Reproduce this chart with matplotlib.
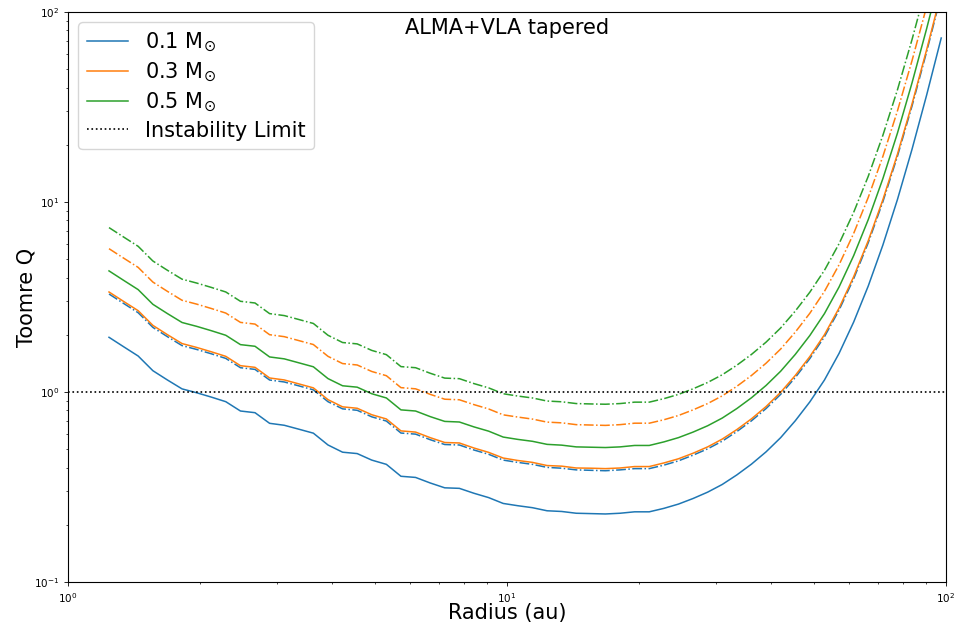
import matplotlib
matplotlib.use("Agg")
import matplotlib.pyplot as plt

# radius grid (au)
radius = [1.240, 1.339, 1.445, 1.561, 1.685, 1.819, 1.963, 2.120, 2.288, 2.471,
          2.667, 2.879, 3.109, 3.356, 3.622, 3.911, 4.222, 4.558, 4.920, 5.312,
          5.734, 6.191, 6.684, 7.215, 7.790, 8.410, 9.083, 9.804, 10.58, 11.43,
          12.34, 13.32, 14.38, 15.52, 16.76, 18.09, 19.53, 21.09, 22.77, 24.58,
          26.54, 28.65, 30.93, 33.39, 36.05, 38.92, 42.02, 45.36, 48.97, 52.87,
          57.08, 61.62, 66.53, 71.82, 77.53, 83.71, 90.37, 97.55]

# Toomre Q, solid lines
q_01 = [1.94, 1.73, 1.546, 1.294, 1.156, 1.038, 0.991, 0.940, 0.889, 0.794,
        0.778, 0.684, 0.668, 0.637, 0.607, 0.526, 0.482, 0.474, 0.438, 0.416,
        0.360, 0.355, 0.332, 0.313, 0.311, 0.293, 0.278, 0.259, 0.252, 0.246,
        0.237, 0.235, 0.230, 0.229, 0.228, 0.230, 0.234, 0.234, 0.244, 0.257,
        0.275, 0.297, 0.326, 0.366, 0.417, 0.484, 0.575, 0.705, 0.887, 1.156,
        1.596, 2.333, 3.614, 5.93, 10.30, 18.97, 36.56, 72.95]
q_03 = [3.360, 2.996, 2.678, 2.241, 2.002, 1.798, 1.716, 1.628, 1.540, 1.375,
        1.348, 1.185, 1.157, 1.103, 1.051, 0.911, 0.835, 0.821, 0.759, 0.721,
        0.624, 0.615, 0.575, 0.542, 0.539, 0.507, 0.481, 0.449, 0.436, 0.426,
        0.410, 0.407, 0.398, 0.397, 0.395, 0.398, 0.405, 0.405, 0.423, 0.445,
        0.476, 0.514, 0.565, 0.634, 0.722, 0.838, 0.996, 1.221, 1.536, 2.002,
        2.764, 4.041, 6.259, 10.27, 17.84, 32.86, 63.32, 126.4]
q_05 = [4.338, 3.868, 3.457, 2.893, 2.585, 2.321, 2.216, 2.102, 1.988, 1.775,
        1.740, 1.529, 1.494, 1.424, 1.357, 1.176, 1.078, 1.060, 0.979, 0.930,
        0.805, 0.794, 0.742, 0.700, 0.695, 0.655, 0.622, 0.579, 0.563, 0.550,
        0.530, 0.525, 0.514, 0.512, 0.510, 0.514, 0.523, 0.523, 0.546, 0.575,
        0.615, 0.664, 0.729, 0.818, 0.932, 1.082, 1.286, 1.576, 1.983, 2.585,
        3.569, 5.217, 8.081, 13.26, 23.03, 42.42, 81.75, 163.1]

# Toomre Q, dash-dot lines
q_01_dd = [3.279, 2.924, 2.613, 2.187, 1.954, 1.754, 1.675, 1.589, 1.502, 1.342,
           1.315, 1.156, 1.129, 1.077, 1.026, 0.889, 0.815, 0.801, 0.740, 0.703,
           0.608, 0.600, 0.561, 0.529, 0.526, 0.495, 0.470, 0.438, 0.426, 0.416,
           0.401, 0.397, 0.389, 0.387, 0.385, 0.389, 0.395, 0.395, 0.412, 0.434,
           0.465, 0.502, 0.551, 0.619, 0.705, 0.818, 0.972, 1.191, 1.499, 1.954,
           2.697, 3.943, 6.108, 10.02, 17.41, 32.06, 61.79, 123.3]
q_03_dd = [5.678, 5.064, 4.525, 3.788, 3.384, 3.038, 2.901, 2.751, 2.602, 2.324,
           2.277, 2.002, 1.955, 1.864, 1.777, 1.540, 1.411, 1.387, 1.282, 1.218,
           1.054, 1.039, 0.972, 0.916, 0.910, 0.858, 0.814, 0.758, 0.738, 0.720,
           0.694, 0.688, 0.673, 0.670, 0.667, 0.673, 0.685, 0.685, 0.714, 0.752,
           0.805, 0.869, 0.954, 1.071, 1.221, 1.417, 1.683, 2.064, 2.596, 3.384,
           4.671, 6.829, 10.58, 17.36, 30.15, 55.53, 107.0, 213.5]
q_05_dd = [7.331, 6.538, 5.842, 4.890, 4.369, 3.923, 3.745, 3.552, 3.360, 3.001,
           2.940, 2.585, 2.524, 2.407, 2.294, 1.988, 1.821, 1.791, 1.655, 1.572,
           1.360, 1.342, 1.255, 1.183, 1.175, 1.107, 1.051, 0.979, 0.952, 0.930,
           0.896, 0.888, 0.869, 0.865, 0.862, 0.869, 0.884, 0.884, 0.922, 0.971,
           1.039, 1.122, 1.232, 1.383, 1.576, 1.829, 2.173, 2.664, 3.352, 4.369,
           6.031, 8.816, 13.66, 22.41, 38.92, 71.69, 138.2, 275.7]

labels = [r"0.1 M$_{\odot}$", r"0.3 M$_{\odot}$", r"0.5 M$_{\odot}$"]
colors = ["#1f77b4", "#ff7f0e", "#2ca02c"]

fig = plt.figure(figsize=(9.59, 6.31), dpi=100)
ax = fig.add_axes([0.0709, 0.0777, 0.9155, 0.9033])

for q, q_dd, lab, col in zip([q_01, q_03, q_05], [q_01_dd, q_03_dd, q_05_dd], labels, colors):
    ax.plot(radius, q, color=col, lw=1.1, label=lab)
    ax.plot(radius, q_dd, color=col, lw=1.1, ls="-.")

ax.axhline(1, color="black", ls=":", lw=1.2, label="Instability Limit")

ax.set_xscale("log")
ax.set_yscale("log")
ax.set_xlim(1, 100)
ax.set_ylim(0.1, 100)
ax.set_xlabel("Radius (au)", fontsize=15, labelpad=-1)
ax.set_ylabel("Toomre Q", fontsize=15, labelpad=-2)
ax.tick_params(which="major", labelsize=7.5, length=2.8, width=0.6)
ax.tick_params(which="minor", length=1.6, width=0.5)

ax.text(0.5, 0.99, "ALMA+VLA tapered", transform=ax.transAxes,
        ha="center", va="top", fontsize=15)
ax.legend(loc="upper left", fontsize=15, labelspacing=0.33)

plt.savefig("out.png", dpi=100)
plt.close(fig)
